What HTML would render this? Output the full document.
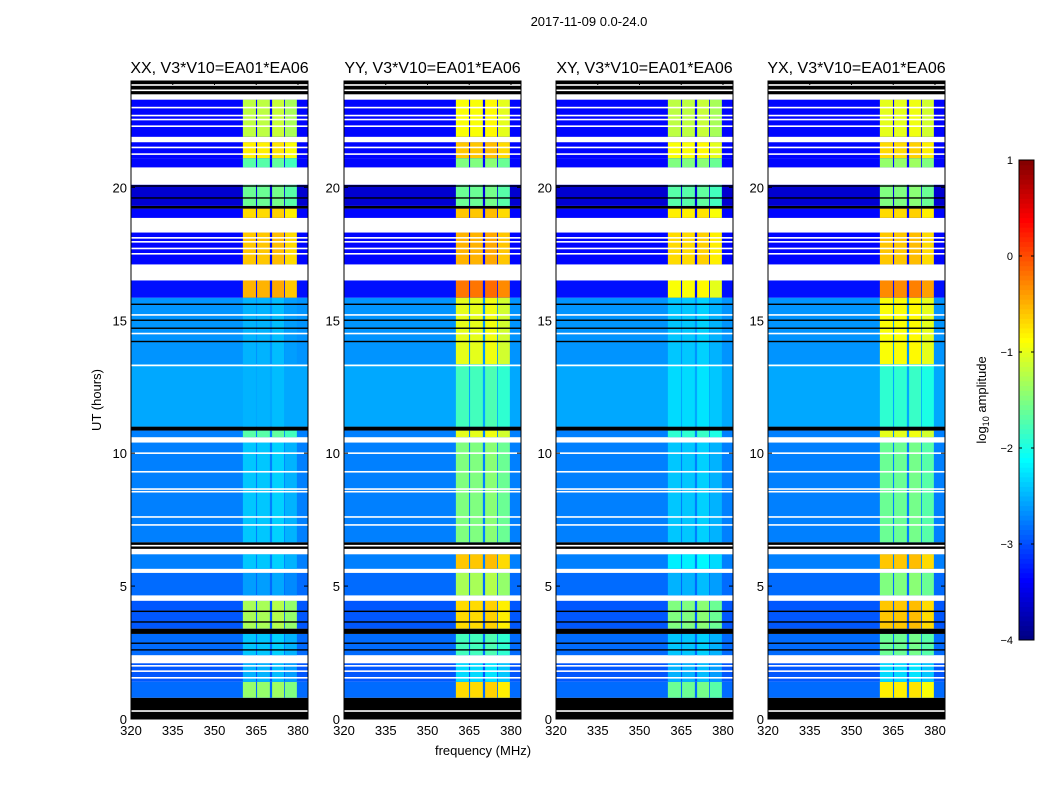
<!DOCTYPE html>
<html><head><meta charset="utf-8"><style>
body{margin:0;background:#fff;}
svg text{font-family:"Liberation Sans",sans-serif;}
</style></head><body>
<svg id="fig" width="1050" height="800" viewBox="0 0 1050 800" xmlns="http://www.w3.org/2000/svg">
<rect width="1050" height="800" fill="#fff"/>
<text x="589" y="26" font-size="13" text-anchor="middle">2017-11-09 0.0-24.0</text>
<text x="483" y="755" font-size="13" text-anchor="middle">frequency (MHz)</text>
<text x="0" y="0" font-size="13" text-anchor="middle" transform="translate(101,400) rotate(-90)">UT (hours)</text>
<text x="0" y="0" font-size="13" text-anchor="middle" transform="translate(986,400) rotate(-90)">log<tspan font-size="9" dy="3">10</tspan><tspan dy="-3"> amplitude</tspan></text>
<g id="panels"></g>
<g id="cbar"></g>
</svg>
<script>
const panelTitles = ["XX, V3*V10=EA01*EA06","YY, V3*V10=EA01*EA06","XY, V3*V10=EA01*EA06","YX, V3*V10=EA01*EA06"];
const xTicks = [320,335,350,365,380];
const yTicks = [0,5,10,15,20];
const cbTicks = [-4,-3,-2,-1,0,1];
const rfiBands = [[360.2,364.9],[365.3,369.9],[370.7,375.0],[375.3,379.6]];
const rfiBandOffset = [0,0,0.05,-0.1];
// time segments
const segStart = [0,0.8,1.4,2.1,2.4,3.2,3.4,4.45,4.65,5.5,5.65,6.2,6.4,6.65,10.4,10.6,10.85,11.0,13.35,15.85,16.5,17.1,18.3,18.85,19.2,19.3,20.1,20.75,21.1,21.7,21.9,23.3,23.5];
const segEnd   = [0.8,1.4,2.1,2.4,3.2,3.4,4.45,4.65,5.5,5.65,6.2,6.4,6.65,10.4,10.6,10.85,11.0,13.35,15.85,16.5,17.1,18.3,18.85,19.2,19.3,20.1,20.75,21.1,21.7,21.9,23.3,23.5,24];
const segKind  = ["b","d","d","w","d","b","d","w","d","w","d","w","b","d","w","d","b","d","d","d","w","d","w","d","b","d","w","d","d","w","d","w","b"];
const segBase  = [0,-2.85,-2.95,0,-2.85,0,-2.95,0,-2.85,0,-2.75,0,0,-2.75,0,-2.75,0,-2.55,-2.65,-3.3,0,-3.35,0,-3.35,0,-3.6,0,-3.35,-3.35,0,-3.35,0,0];
const rfiXX = [0,-1.4,-2.5,0,-2.4,0,-1.3,0,-2.6,0,-2.4,0,0,-2.4,0,-1.7,0,-2.5,-2.5,-0.5,0,-0.6,0,-0.7,0,-1.6,0,-1.7,-0.8,0,-1.2,0,0];
const rfiYY = [0,-0.7,-2.3,0,-1.8,0,-0.7,0,-1.3,0,-0.6,0,0,-1.5,0,-1.0,0,-1.8,-1.0,-0.2,0,-0.5,0,-0.6,0,-1.6,0,-1.5,-0.6,0,-0.9,0,0];
const rfiXY = [0,-1.6,-2.5,0,-2.4,0,-1.5,0,-2.5,0,-2.2,0,0,-2.4,0,-1.9,0,-2.3,-2.4,-0.9,0,-0.7,0,-0.8,0,-1.7,0,-1.5,-0.9,0,-1.2,0,0];
const rfiYX = [0,-0.8,-2.3,0,-1.6,0,-0.6,0,-1.5,0,-0.6,0,0,-1.6,0,-1.0,0,-1.9,-0.9,-0.3,0,-0.6,0,-0.7,0,-1.5,0,-1.4,-0.7,0,-1.0,0,0];
const rfiLevels = [rfiXX,rfiYY,rfiXY,rfiYX];
const whiteLines = [0.3,1.55,1.8,2.0,6.52,7.3,7.6,8.55,8.65,9.3,10.0,13.3,14.5,15.2,17.5,17.7,17.95,18.1,21.25,21.5,22.3,22.55,22.7,23.0,23.65,23.85];
const blackLines = [2.6,2.85,3.65,4.05,14.2,14.7,15.0,15.6,19.6,20.05];

const NS="http://www.w3.org/2000/svg";
function mk(tag, attrs, parent){const e=document.createElementNS(NS,tag);for(const k in attrs)e.setAttribute(k,attrs[k]);parent.appendChild(e);return e;}
function jet(v){let t=(v+4)/5;t=Math.max(0,Math.min(1,t));
 const r=Math.max(0,Math.min(1,1.5-Math.abs(4*t-3))),g=Math.max(0,Math.min(1,1.5-Math.abs(4*t-2))),b=Math.max(0,Math.min(1,1.5-Math.abs(4*t-1)));
 return `rgb(${Math.round(r*255)},${Math.round(g*255)},${Math.round(b*255)})`;}
const panelX0=[131,344,556,768], PW=177, YT=81, YB=719;
const yOf=h=>YB-(h/24)*(YB-YT);
const panels=document.getElementById('panels');
panelX0.forEach((x0,p)=>{
 const xOf=f=>x0+(f-320)*(PW/63.6);
 const g=mk('g',{},panels);
 
 
 for(let i=0;i<segStart.length;i++){
  const y1=yOf(segEnd[i]), y2=yOf(segStart[i]);
  const col = segKind[i]==='b'?'#000':segKind[i]==='w'?'#fff':jet(segBase[i]);
  const r=mk('rect',{x:x0,y:y1,width:PW,height:y2-y1,fill:col},g);
  
  
  if(segKind[i]==='d'){
   rfiBands.forEach((bd,k)=>{
    const lv=rfiLevels[p][i]+rfiBandOffset[k];
    if(lv<=segBase[i]) return;
    const rr=mk('rect',{x:xOf(bd[0]),y:y1,width:xOf(bd[1])-xOf(bd[0]),height:y2-y1,fill:jet(lv)},g);
    
    
   });
  }
 }
 whiteLines.forEach(h=>{const l=mk('rect',{x:x0,y:yOf(h)-0.8,width:PW,height:1.6,fill:'#fff'},g);
  
  });
 blackLines.forEach(h=>{const l=mk('rect',{x:x0,y:yOf(h)-0.7,width:PW,height:1.4,fill:'#000'},g);
  
  });
 const fr=mk('rect',{x:x0,y:YT,width:PW,height:YB-YT,fill:'none',stroke:'#000','stroke-width':1},g);
 
 
 const t=mk('text',{x:x0+PW/2,y:73,'font-size':16,'text-anchor':'middle'},g);t.textContent=panelTitles[p];
 
 
 xTicks.forEach(f=>{const x=xOf(f);
  mk('line',{x1:x,x2:x,y1:YB,y2:YB-4,stroke:'#000'},g);mk('line',{x1:x,x2:x,y1:YT,y2:YT+4,stroke:'#000'},g);
  const tl=mk('text',{x:x,y:YB+16,'font-size':13,'text-anchor':'middle'},g);tl.textContent=f;
  
  });
 yTicks.forEach(h=>{const y=yOf(h);
  mk('line',{x1:x0,x2:x0+4,y1:y,y2:y,stroke:'#000'},g);mk('line',{x1:x0+PW,x2:x0+PW-4,y1:y,y2:y,stroke:'#000'},g);
  const tl=mk('text',{x:x0-4,y:y+5,'font-size':13,'text-anchor':'end'},g);tl.textContent=h;
  
  });
});
const cb=document.getElementById('cbar');
const CX=1019,CW=15,CT=160,CB=640;
const cyOf=v=>CB-(v+4)/5*(CB-CT);
for(let i=0;i<100;i++){const v0=-4+i*0.05;
 const r=mk('rect',{x:CX,y:cyOf(v0+0.05),width:CW,height:(CB-CT)/100+0.5,fill:jet(v0+0.025)},cb);
 
 }
const cf=mk('rect',{x:CX,y:CT,width:CW,height:CB-CT,fill:'none',stroke:'#000'},cb);


cbTicks.forEach(v=>{const y=cyOf(v);
 mk('line',{x1:CX,x2:CX+3,y1:y,y2:y,stroke:'#000'},cb);mk('line',{x1:CX+CW,x2:CX+CW-3,y1:y,y2:y,stroke:'#000'},cb);
 const t=mk('text',{x:1013,y:y+4,'font-size':11,'text-anchor':'end'},cb);
 t.textContent=(v<0?'\u2212'+(-v):v);
 
 });
</script>
</body></html>
